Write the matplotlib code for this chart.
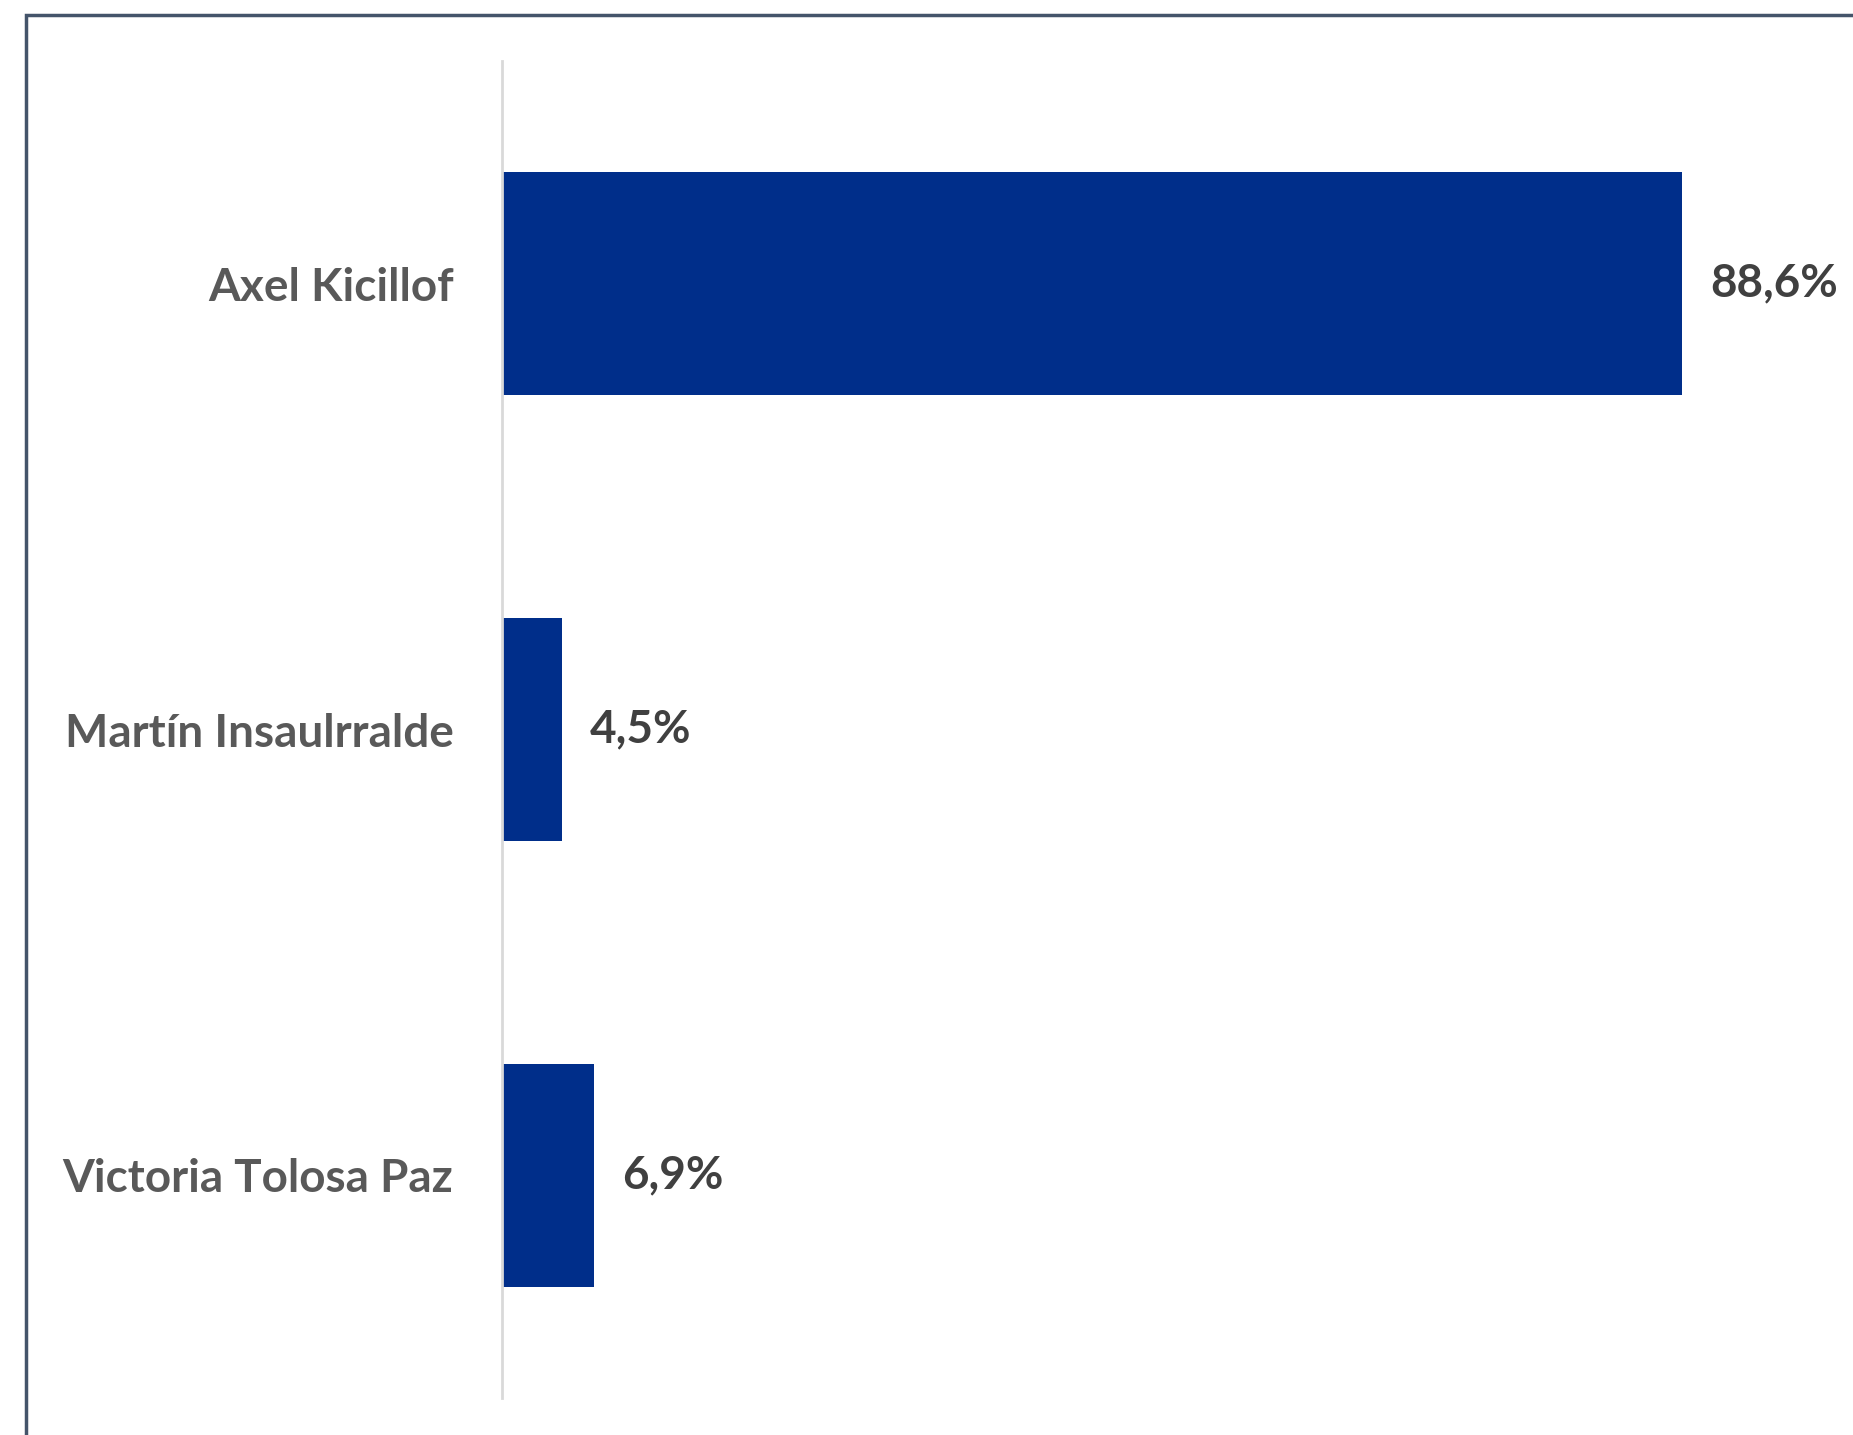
import matplotlib.pyplot as plt
from matplotlib.patches import Rectangle

candidatos = ['Axel Kicillof', 'Martín Insaulrralde', 'Victoria Tolosa Paz']
valores = [88.6, 4.5, 6.9]
etiquetas = ['88,6%', '4,5%', '6,9%']

plt.rcParams['font.family'] = ['Lato', 'DejaVu Sans']

fig = plt.figure(figsize=(18.53, 14.35), dpi=100)
ax = fig.add_axes([502/1853, 37/1435, 1 - 502/1853, 1337/1435])

ax.barh(range(len(candidatos)), valores, height=0.5, color='#002E8A')
ax.set_ylim(2.5, -0.5)
ax.set_xlim(0, (1853 - 502) / 13.32)

ax.set_yticks(range(len(candidatos)))
ax.set_yticklabels(candidatos, fontsize=33, fontweight='bold', color='#595959')
ax.tick_params(axis='y', length=0, pad=35)
ax.set_xticks([])

for s in ['top', 'right', 'bottom']:
    ax.spines[s].set_visible(False)
ax.spines['left'].set_color('#d9d9d9')
ax.spines['left'].set_linewidth(2)

for i, v in enumerate(valores):
    ax.annotate(etiquetas[i], (v, i), xytext=(20, 0), textcoords='offset points',
                va='center', ha='left', fontsize=33, fontweight='bold', color='#404040')

# marco exterior (solo lados izquierdo y superior visibles)
fig.add_artist(Rectangle((26/1853, -0.1), 1.2, 1 - 15/1435 + 0.1, transform=fig.transFigure,
                         fill=False, edgecolor='#44546A', linewidth=2.5))

fig.savefig('out.png', dpi=100, facecolor='white')
